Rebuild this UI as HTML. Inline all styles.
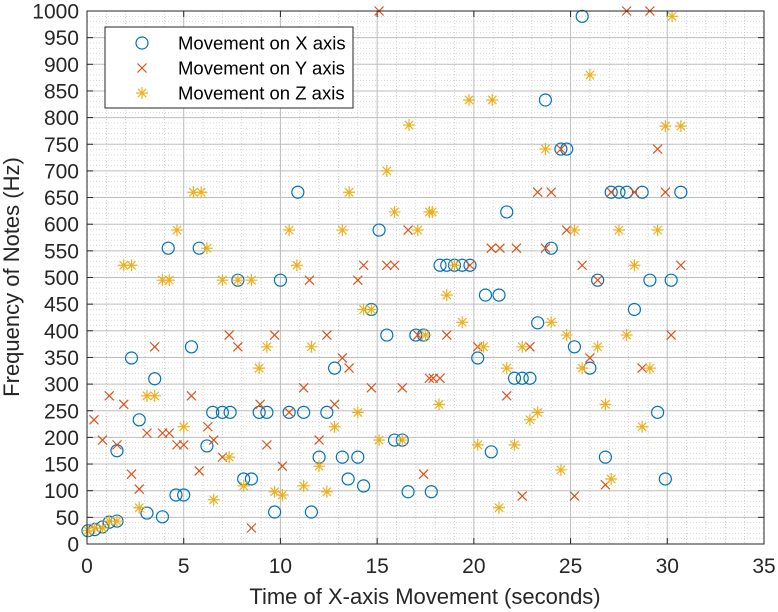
<!DOCTYPE html>
<html><head><meta charset="utf-8"><style>
body{margin:0;background:#fff;}
svg{display:block;font-family:"Liberation Sans",Arial,sans-serif;}
</style></head><body>
<svg id="chart" width="778" height="612" viewBox="0 0 778 612">
<rect x="0" y="0" width="778" height="612" fill="#fff"/>
<g id="grid"></g>
<g id="ticks"></g>
<g id="marks"></g>
<rect x="87" y="11" width="677" height="533" fill="none" stroke="#262626" stroke-width="1"/>
<text x="425" y="604" text-anchor="middle" font-size="22" fill="#262626">Time of X-axis Movement (seconds)</text>
<text transform="translate(19,277) rotate(-90)" text-anchor="middle" font-size="22" fill="#262626">Frequency of Notes (Hz)</text>
<g>
<rect x="105" y="27" width="248" height="81" fill="#fff" stroke="#262626"/>
<circle cx="142" cy="43" r="6" fill="none" stroke="#0072BD" stroke-width="1.2"/>
<text x="178" y="49.5" font-size="18.5" fill="#000">Movement on X axis</text>
<path d="M137.5 63.5L146.5 72.5M146.5 63.5L137.5 72.5" stroke="#D95319" stroke-width="1.2"/>
<text x="178" y="74.5" font-size="18.5" fill="#000">Movement on Y axis</text>
<path d="M142 87V99M136 93H148M137.8 88.8L146.2 97.2M146.2 88.8L137.8 97.2" stroke="#EDB120" stroke-width="1.2"/>
<text x="178" y="99.5" font-size="18.5" fill="#000">Movement on Z axis</text>
</g>
</svg>
<script>
const xTicks=[0,5,10,15,20,25,30,35];
const yTicks=[0,50,100,150,200,250,300,350,400,450,500,550,600,650,700,750,800,850,900,950,1000];
const xT=[0.05,0.4,0.8,1.15,1.55,1.55,2.3,2.7,3.5,3.1,3.9,5.4,4.6,5.0,6.2,6.5,7.0,7.4,8.1,8.5,8.9,9.3,9.7,10.45,11.2,12.4,11.6,12.0,12.8,13.2,14.0,13.5,14.3,14.7,15.5,15.9,16.3,16.6,17.0,17.4,17.8,10.9,4.2,5.8,7.8,10.0,15.1,25.6,23.7,24.5,24.8,27.1,27.5,27.9,28.7,30.7,21.7,24.0,18.25,18.6,19.0,19.4,19.8,26.4,29.1,30.2,20.6,21.3,28.3,23.3,25.2,20.2,26.0,22.1,22.5,22.9,29.5,20.9,26.8,29.9];
const xF=[25,27,32,41,43,175,349,233,310,58,51,370,92,92,184,247,247,247,122,122,247,247,60,247,247,247,60,163,330,163,163,122,109,440,392,195,195,98,392,392,98,660,555,555,495,495,589,990,833,741,741,660,660,660,660,660,623,555,523,523,523,523,523,495,495,495,467,467,440,415,370,349,330,311,311,311,247,173,163,122];
const yT=[0.36,1.15,0.8,1.9,1.55,2.3,2.7,3.5,3.1,3.9,4.25,4.65,5.0,5.4,5.8,6.25,6.55,7.0,7.35,7.8,8.5,8.95,9.3,9.7,10.1,10.45,11.2,12.0,12.4,12.8,13.2,13.55,14.7,16.3,17.1,17.4,17.7,15.1,11.5,14.0,14.3,15.5,15.9,16.6,27.9,29.1,24.5,29.5,23.3,24.0,27.1,28.3,29.9,24.8,20.9,21.35,22.2,23.7,25.6,19.8,30.7,26.4,18.6,30.2,20.2,22.9,26.0,17.9,18.25,28.7,21.7,26.8,22.5,25.2];
const yF=[233,278,195,262,186,131,103,370,208,208,208,186,186,278,137,220,195,163,392,370,30,262,186,392,146,247,293,195,392,262,349,330,293,293,392,131,311,1000,495,495,523,523,523,589,1000,1000,741,741,660,660,660,660,660,589,555,555,555,555,523,523,523,495,392,392,370,370,349,311,311,330,278,111,90,90];
const zT=[0.05,0.4,0.8,1.15,1.55,2.7,3.1,3.5,5.0,6.55,7.35,8.1,8.9,9.3,9.7,10.1,11.2,11.6,12.0,12.4,12.8,14.0,14.3,14.7,15.1,16.3,17.5,1.9,2.3,3.9,4.25,4.65,5.5,5.9,6.2,7.0,7.8,8.5,10.45,10.85,13.2,13.55,15.5,15.9,16.65,17.1,17.7,30.25,26.0,19.75,20.95,29.9,30.7,23.7,17.85,25.2,27.5,29.5,19.0,28.3,18.6,19.4,24.0,24.8,27.9,20.5,22.5,26.4,21.7,25.6,29.1,18.2,26.8,23.3,22.9,28.7,20.2,22.1,24.5,27.1,21.3];
const zF=[25,30,30,43,43,68,278,278,220,83,163,109,330,370,98,92,109,370,146,98,220,247,440,440,195,195,392,523,523,495,495,589,660,660,555,495,495,495,589,523,589,660,700,623,786,589,623,990,880,833,833,784,784,741,623,589,589,589,523,523,467,416,416,392,392,370,370,370,330,330,330,262,262,247,233,220,186,186,139,122,68];

const X0=87,X1=764,Y0=544,Y1=11;
function sx(t){return X0+(t/35)*(X1-X0);}
function sy(f){return Y0-(f/1000)*(Y0-Y1);}
const NS='http://www.w3.org/2000/svg';
function mk(tag,attrs,parent){const e=document.createElementNS(NS,tag);for(const k in attrs)e.setAttribute(k,attrs[k]);parent.appendChild(e);return e;}
const grid=document.getElementById('grid'),ticks=document.getElementById('ticks'),marks=document.getElementById('marks');
for(let t=1;t<35;t++){if(t%5===0)continue;const l=mk('line',{x1:sx(t),x2:sx(t),y1:Y1,y2:Y0,stroke:'#b8b8b8','stroke-width':0.6,'stroke-dasharray':'1 2'},grid);

}
for(let f=10;f<1000;f+=10){if(f%50===0)continue;const l=mk('line',{x1:X0,x2:X1,y1:sy(f),y2:sy(f),stroke:'#c4c4c4','stroke-width':0.6,'stroke-dasharray':'1 2'},grid);

}
xTicks.forEach(t=>{const l=mk('line',{x1:sx(t),x2:sx(t),y1:Y1,y2:Y0,stroke:'#bdbdbd','stroke-width':1},grid);


mk('line',{x1:sx(t),x2:sx(t),y1:Y0,y2:Y0-6,stroke:'#262626'},ticks);
mk('line',{x1:sx(t),x2:sx(t),y1:Y1,y2:Y1+6,stroke:'#262626'},ticks);
const tx=mk('text',{x:sx(t),y:Y0+29,'text-anchor':'middle','font-size':21,fill:'#262626'},ticks);tx.textContent=t;

});
yTicks.forEach(f=>{const l=mk('line',{x1:X0,x2:X1,y1:sy(f),y2:sy(f),stroke:'#bdbdbd','stroke-width':1},grid);


mk('line',{x1:X0,x2:X0+6,y1:sy(f),y2:sy(f),stroke:'#262626'},ticks);
mk('line',{x1:X1,x2:X1-6,y1:sy(f),y2:sy(f),stroke:'#262626'},ticks);
const tx=mk('text',{x:X0-8,y:sy(f)+7.5,'text-anchor':'end','font-size':21,fill:'#262626'},ticks);tx.textContent=f;

});
xT.forEach((t,i)=>{const c=mk('circle',{cx:sx(t),cy:sy(xF[i]),r:6,fill:'none',stroke:'#0072BD','stroke-width':1.2},marks);

});
yT.forEach((t,i)=>{const x=sx(t),y=sy(yF[i]);const p=mk('path',{d:`M${x-4.5} ${y-4.5}L${x+4.5} ${y+4.5}M${x+4.5} ${y-4.5}L${x-4.5} ${y+4.5}`,stroke:'#D95319','stroke-width':1.2},marks);

});
zT.forEach((t,i)=>{const x=sx(t),y=sy(zF[i]);const p=mk('path',{d:`M${x} ${y-6}V${y+6}M${x-6} ${y}H${x+6}M${x-4.2} ${y-4.2}L${x+4.2} ${y+4.2}M${x+4.2} ${y-4.2}L${x-4.2} ${y+4.2}`,stroke:'#EDB120','stroke-width':1.2},marks);

});
</script>
</body></html>
